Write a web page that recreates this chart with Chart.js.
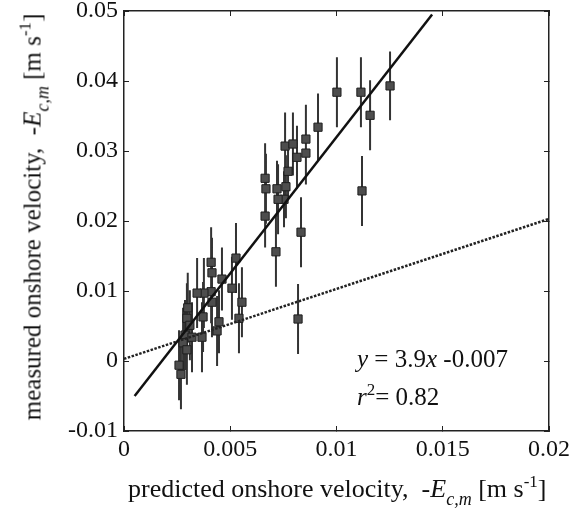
<!DOCTYPE html>
<html>
<head>
<meta charset="utf-8">
<script src="https://cdn.jsdelivr.net/npm/chart.js@4"></script>
<style>
  html, body { margin: 0; padding: 0; background: #fff; }
  #wrap { position: relative; width: 571px; height: 517px; font-family: 'Liberation Serif', 'Times New Roman', serif; color: #111; }
  #wrap canvas { position: absolute; left: 0; top: 0; }
  .lbl { position: absolute; white-space: nowrap; font-size: 24px; line-height: 24px; }
  .sub { font-size: 18px; position: relative; top: 8px; font-style: italic; }
  .sup { font-size: 17px; position: relative; top: -10px; }
  #ytitle { left: 34px; top: 217px; font-size: 25px; transform: translate(-50%, -50%) rotate(-90deg); }
  #xtitle { left: 128px; top: 477px; font-size: 26px; }
  #eq1 { left: 357px; top: 347px; font-size: 25px; }
  #eq2 { left: 357px; top: 385px; font-size: 25px; }
</style>
</head>
<body>
<div id="wrap">
  <canvas id="chart" width="571" height="517"></canvas>
  <div class="lbl" id="ytitle">measured onshore velocity,&nbsp; -<i>E</i><span class="sub">c,m</span> [m s<span class="sup">-1</span>]</div>
  <div class="lbl" id="xtitle">predicted onshore velocity,&nbsp; -<i>E</i><span class="sub">c,m</span> [m s<span class="sup">-1</span>]</div>
  <div class="lbl" id="eq1"><i>y</i> = 3.9<i>x</i> -0.007</div>
  <div class="lbl" id="eq2"><i>r</i><span class="sup">2</span>= 0.82</div>
</div>
<script>
// axis ticks
const xTickValues = [0, 0.005, 0.01, 0.015, 0.02];
const xTickLabels = ['0', '0.005', '0.01', '0.015', '0.02'];
const yTickValues = [-0.01, 0, 0.01, 0.02, 0.03, 0.04, 0.05];
const yTickLabels = ['-0.01', '0', '0.01', '0.02', '0.03', '0.04', '0.05'];

const predicted = [
  0.01002, 0.01115, 0.01158, 0.01252, 0.00913, 0.00856, 0.00856, 0.00814, 0.00758, 0.00795,
  0.00772, 0.00762, 0.00753, 0.0072, 0.00725, 0.00664, 0.00668, 0.00664, 0.00715, 0.00833,
  0.0112, 0.00819, 0.0041, 0.00414, 0.00527, 0.00461, 0.00508, 0.00555, 0.00541, 0.00447,
  0.00438, 0.00367, 0.00372, 0.0041, 0.00414, 0.00376, 0.00344, 0.0030, 0.00296, 0.00287,
  0.00278, 0.00296, 0.00259, 0.00268, 0.0032, 0.0031
];
const measured = [
  0.0384, 0.0384, 0.0351, 0.0393, 0.0334, 0.0317, 0.0297, 0.0291, 0.0307, 0.0310,
  0.0271, 0.0249, 0.0231, 0.0246, 0.0231, 0.0261, 0.0246, 0.0207, 0.0156, 0.0184,
  0.0243, 0.0060, 0.0141, 0.0126, 0.0147, 0.0117, 0.0104, 0.0084, 0.0061, 0.0056,
  0.0043, 0.0034, 0.0063, 0.0099, 0.0084, 0.0097, 0.0097, 0.0076, 0.0061, 0.0037,
  0.0026, 0.0016, -0.0006, -0.0019, 0.0034, 0.0051
];
const errHalf = [
  0.0050, 0.0050, 0.0050, 0.0049, 0.0048, 0.0049, 0.0045, 0.0045, 0.0048, 0.0045,
  0.0040, 0.0045, 0.0040, 0.0040, 0.0050, 0.0050, 0.0050, 0.0045, 0.0050, 0.0050,
  0.0050, 0.0050, 0.0050, 0.0050, 0.0050, 0.0045, 0.0045, 0.0050, 0.0050, 0.0045,
  0.0050, 0.0050, 0.0050, 0.0045, 0.0050, 0.0050, 0.0050, 0.0050, 0.0050, 0.0050,
  0.0050, 0.0050, 0.0050, 0.0050, 0.0050, 0.0050
];

// fitted line y = 3.9x - 0.007 and the 1:1 line, end points
const fitX = [0.0005, 0.0145];
const fitY = [-0.0050, 0.0495];
const oneX = [0, 0.02];
const oneY = [0.0003, 0.0203];

const points = predicted.map((x, i) => ({ x: x, y: measured[i] }));
const bars = [];
predicted.forEach((x, i) => {
  bars.push({ x: x, y: measured[i] - errHalf[i] });
  bars.push({ x: x, y: measured[i] + errHalf[i] });
  bars.push({ x: x, y: null });
});

const tickFont = { family: "'Liberation Serif', 'Times New Roman', serif", size: 24 };

// fixed axis sizes, no extra room for overhanging labels
const fixBox = (w, h) => (scale) => {
  if (w !== null) scale.width = w;
  if (h !== null) scale.height = h;
  scale.paddingTop = 0;
  scale.paddingBottom = 0;
  scale.paddingLeft = 0;
  scale.paddingRight = 0;
};

const ctx = document.getElementById('chart').getContext('2d');
new Chart(ctx, {
  type: 'scatter',
  data: {
    datasets: [
      {
        type: 'line',
        data: fitX.map((x, i) => ({ x: x, y: fitY[i] })),
        borderColor: '#111',
        borderWidth: 2.5,
        pointRadius: 0,
        order: 0
      },
      {
        type: 'line',
        data: oneX.map((x, i) => ({ x: x, y: oneY[i] })),
        borderColor: '#222',
        borderWidth: 2.5,
        borderDash: [2.5, 1.5],
        pointRadius: 0,
        order: 0
      },
      {
        data: points,
        pointStyle: 'rect',
        pointRadius: 5.8,
        backgroundColor: '#4d4d4d',
        borderColor: '#1e1e1e',
        borderWidth: 1,
        order: 1
      },
      {
        type: 'line',
        data: bars,
        borderColor: '#333',
        borderWidth: 2,
        pointRadius: 0,
        spanGaps: false,
        order: 2
      }
    ]
  },
  options: {
    responsive: false,
    animation: false,
    devicePixelRatio: 1,
    layout: { padding: { left: 0, top: 11, right: 22, bottom: 0 } },
    plugins: {
      legend: { display: false },
      tooltip: { enabled: false }
    },
    scales: {
      x: {
        type: 'linear',
        position: 'bottom',
        min: 0,
        max: 0.02,
        afterBuildTicks: (scale) => { scale.ticks = xTickValues.map(v => ({ value: v })); },
        afterFit: fixBox(null, 86),
        ticks: {
          callback: (v, i) => xTickLabels[i],
          font: tickFont,
          color: '#111',
          padding: 9,
          maxRotation: 0,
          autoSkip: false
        },
        grid: { drawOnChartArea: false, tickLength: -5, color: '#222', lineWidth: 1 },
        border: { display: true, color: '#222', width: 1.5 }
      },
      x2: {
        type: 'linear',
        position: 'top',
        min: 0,
        max: 0.02,
        afterBuildTicks: (scale) => { scale.ticks = xTickValues.map(v => ({ value: v })); },
        afterFit: fixBox(null, 0),
        ticks: { display: false },
        grid: { drawOnChartArea: false, tickLength: -5, color: '#222', lineWidth: 1 },
        border: { display: true, color: '#222', width: 1.5 }
      },
      y: {
        type: 'linear',
        position: 'left',
        min: -0.01,
        max: 0.05,
        afterBuildTicks: (scale) => { scale.ticks = yTickValues.map(v => ({ value: v })); },
        afterFit: fixBox(124, null),
        ticks: {
          callback: (v, i) => yTickLabels[i],
          font: tickFont,
          color: '#111',
          padding: 11,
          autoSkip: false
        },
        grid: { drawOnChartArea: false, tickLength: -5, color: '#222', lineWidth: 1 },
        border: { display: true, color: '#222', width: 1.5 }
      },
      y2: {
        type: 'linear',
        position: 'right',
        min: -0.01,
        max: 0.05,
        afterBuildTicks: (scale) => { scale.ticks = yTickValues.map(v => ({ value: v })); },
        afterFit: fixBox(0, null),
        ticks: { display: false },
        grid: { drawOnChartArea: false, tickLength: -5, color: '#222', lineWidth: 1 },
        border: { display: true, color: '#222', width: 1.5 }
      }
    }
  }
});
</script>
</body>
</html>
